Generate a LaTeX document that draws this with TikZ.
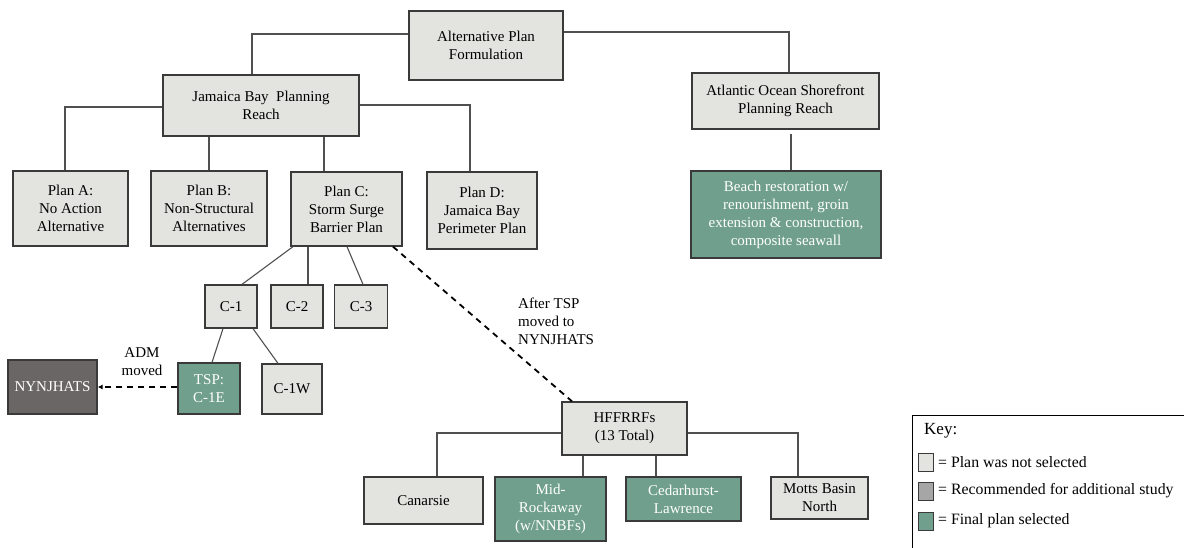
\documentclass[tikz,border=0pt]{standalone}
\usepackage{fontspec}
\setmainfont{Liberation Serif}
\usetikzlibrary{arrows.meta,calc}
\definecolor{boxfill}{HTML}{E3E3DF}
\definecolor{greenfill}{HTML}{70A08D}
\definecolor{darkfill}{HTML}{6B6666}
\definecolor{midfill}{HTML}{A6A6A6}
\definecolor{edge}{HTML}{3A3A3A}
\definecolor{linecol}{HTML}{505050}
\tikzset{
  box/.style={draw=edge, line width=1.3pt, fill=boxfill, align=center, inner sep=0pt,
    font=\fontsize{15}{18}\selectfont, text=black},
  greenbox/.style={box, fill=greenfill, text=white},
  darkbox/.style={box, fill=darkfill, text=white},
  conn/.style={draw=linecol, line width=1.1pt},
  dashconn/.style={draw=black, line width=1.8pt, dash pattern=on 6pt off 5pt},
  lbl/.style={font=\fontsize{15}{18}\selectfont, inner sep=0pt, align=center},
  keysq/.style={draw=edge, line width=1pt, minimum width=15pt, minimum height=18pt, inner sep=0pt},
  keytxt/.style={font=\fontsize{15.8}{18}\selectfont, inner sep=0pt, anchor=west}
}
\begin{document}
\begin{tikzpicture}[x=1pt,y=-1pt]
\useasboundingbox (0,0) rectangle (1184,548);
% boxes
\node[box, minimum width=154pt, minimum height=69pt] (apf) at (486,45.5) {Alternative Plan\\Formulation};
\node[box, minimum width=196pt, minimum height=61pt] (jb) at (261,105.5) {Jamaica Bay\ \ Planning\\Reach};
\node[box, minimum width=187pt, minimum height=56pt] (aos) at (785.5,101) {Atlantic Ocean Shorefront\\Planning Reach};
\node[greenbox, minimum width=190pt, minimum height=87pt] (beach) at (786,214.5) {Beach restoration w/\\renourishment, groin\\extension \& construction,\\composite seawall};
\node[box, minimum width=115pt, minimum height=75pt] (pa) at (70.5,208.5) {Plan A:\\No Action\\Alternative};
\node[box, minimum width=116pt, minimum height=75pt] (pb) at (209,208.5) {Plan B:\\Non-Structural\\Alternatives};
\node[box, minimum width=111pt, minimum height=74pt] (pc) at (346.5,209) {Plan C:\\Storm Surge\\Barrier Plan};
\node[box, minimum width=110pt, minimum height=77pt] (pd) at (482,210.5) {Plan D:\\Jamaica Bay\\Perimeter Plan};
\node[box, minimum width=52pt, minimum height=43pt] (c1) at (231,306.5) {C-1};
\node[box, minimum width=52pt, minimum height=43pt] (c2) at (297,306.5) {C-2};
\node[box, minimum width=53pt, minimum height=43pt] (c3) at (361,306.5) {C-3};
\node[greenbox, minimum width=62pt, minimum height=51pt] (tsp) at (209,388.5) {TSP:\\C-1E};
\node[box, minimum width=60pt, minimum height=50pt] (c1w) at (292,389) {C-1W};
\node[darkbox, minimum width=89pt, minimum height=54pt] (ny) at (52.5,387) {NYNJHATS};
\node[box, minimum width=125pt, minimum height=53pt] (hf) at (624.5,428.5) {HFFRRFs\\(13 Total)};
\node[box, minimum width=119pt, minimum height=47pt] (can) at (423.5,500.5) {Canarsie};
\node[greenbox, minimum width=111pt, minimum height=64pt] (mid) at (550.5,509) {Mid-\\Rockaway\\(w/NNBFs)};
\node[greenbox, minimum width=115pt, minimum height=44pt] (ced) at (683.5,499) {Cedarhurst-\\Lawrence};
\node[box, minimum width=97pt, minimum height=42pt] (mot) at (819.5,498) {Motts Basin\\North};
% connectors
\draw[conn] (apf.west |- 0,34) -| (jb.north -| 252,0);
\draw[conn] (apf.east |- 0,32) -| (aos.north -| 789,0);
\draw[conn] (jb.west |- 0,107) -| (pa.north -| 65,0);
\draw[conn] (jb.south -| 209,0) -- (pb.north);
\draw[conn] (jb.south -| 324,0) -- (pc.north -| 324,0);
\draw[conn] (jb.east |- 0,105) -| (pd.north -| 470,0);
\draw[conn, shorten <=4pt] (aos.south -| 791,0) -- (beach.north -| 791,0);
\draw[conn] (pc.south -| 293,0) -- (c1.north -| 242,0);
\draw[conn] (pc.south -| 308,0) -- (c2.north -| 308,0);
\draw[conn] (pc.south -| 347,0) -- (c3.north -| 363,0);
\draw[conn] (c1.south -| 223,0) -- (tsp.north -| 212,0);
\draw[conn] (c1.south -| 253,0) -- (c1w.north -| 278,0);
\draw[dashconn] (pc.south -| 393,0) -- (hf.north -| 572,0);
\draw[dashconn, -{Latex[length=5pt,width=5pt]}] (tsp.west |- 0,387) -- (ny.east |- 0,387);
\draw[conn] (hf.west |- 0,433) -| (can.north -| 437,0);
\draw[conn] (hf.south -| 583,0) -- (mid.north -| 583,0);
\draw[conn] (hf.south -| 656,0) -- (ced.north -| 656,0);
\draw[conn] (hf.east |- 0,433) -| (mot.north -| 798,0);
% labels
\node[lbl] (adm) at (142,362) {ADM\\moved};
\node[lbl, align=left, anchor=west] (after) at (518,321) {After TSP\\moved to\\NYNJHATS};
% key
\draw[draw=black, line width=1pt] (912,548) -- (912,415) -- (1184,415);
\node[keytxt, font=\fontsize{17}{20}\selectfont] (keyt) at (924,431) {Key:};
\node[keysq, fill=boxfill] (k1) at (926,462) {};
\node[keysq, fill=midfill] (k2) at (926,491) {};
\node[keysq, fill=greenfill] (k3) at (926,521) {};
\node[keytxt] (k1t) at (938,462) {= Plan was not selected};
\node[keytxt] (k2t) at (938,491) {= Recommended for additional study};
\node[keytxt] (k3t) at (938,521) {= Final plan selected};
\end{tikzpicture}
\end{document}
